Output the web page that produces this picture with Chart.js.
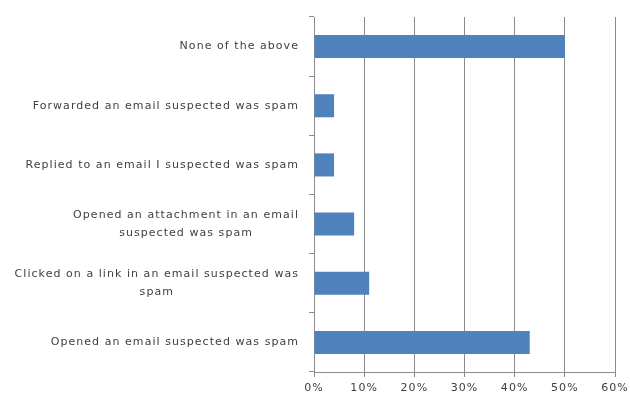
<!DOCTYPE html>
<html>
<head>
<meta charset="utf-8">
<script src="https://cdn.jsdelivr.net/npm/chart.js@4/dist/chart.umd.min.js"></script>
<style>
  html, body { margin: 0; padding: 0; background: #fff; }
  #wrap { width: 630px; height: 397px; }
</style>
</head>
<body>
<div id="wrap"><canvas id="spamchart"></canvas></div>
<script>
// survey answers, top to bottom (each entry is the wrapped lines of the label)
const answers = [
    ["None of the above"],
    ["Forwarded an email suspected was spam"],
    ["Replied to an email I suspected was spam"],
    ["Opened an attachment in an email", "suspected was spam"],
    ["Clicked on a link in an email suspected was", "spam"],
    ["Opened an email suspected was spam"]
];
const shares = [50, 4, 4, 8, 11, 43];
const pctTicks = [0, 10, 20, 30, 40, 50, 60];

const labelFont = '11px "DejaVu Sans", Verdana, sans-serif';
const textColor = '#404040';
const gridColor = '#8c8c8c';
const tracking = '1.05px';

// wider tracking for the text on the canvas
const spacing = {
    id: 'spacing',
    beforeDraw(chart) { chart.ctx.letterSpacing = tracking }
};

// category labels: right aligned block, lines centred inside it
const answerLabels = {
    id: 'answerLabels',
    afterDraw(chart) {
        const ctx = chart.ctx;
        const yScale = chart.scales.y;
        const rightEdge = chart.chartArea.left - 15;
        const lineH = 18;
        ctx.save();
        ctx.font = labelFont;
        ctx.letterSpacing = tracking;
        ctx.fillStyle = textColor;
        ctx.textBaseline = 'middle';
        ctx.textAlign = 'left';
        answers.forEach((lines, i) => {
            const yMid = yScale.getPixelForTick(i);
            var widest = 0;
            lines.forEach(l => { widest = Math.max(widest, ctx.measureText(l).width) });
            lines.forEach((l, j) => {
                const w = ctx.measureText(l).width;
                const x = rightEdge - widest + (widest - w) / 2;
                const y = yMid + (j - (lines.length - 1) / 2) * lineH;
                ctx.fillText(l, x, y);
            });
        });
        ctx.restore();
    }
};

const data = {
    labels: answers.map(a => a.join(' ')),
    datasets: [{
        data: shares,
        backgroundColor: '#4f81bd',
        borderWidth: 0,
        categoryPercentage: 1,
        barPercentage: 0.39
    }]
};

const config = {
    type: 'bar',
    data: data,
    options: {
        indexAxis: 'y',
        responsive: true,
        maintainAspectRatio: false,
        animation: false,
        layout: { padding: { top: 17, right: 15, bottom: 0, left: 0 } },
        plugins: {
            legend: { display: false },
            tooltip: { enabled: false }
        },
        scales: {
            x: {
                min: 0,
                max: 60,
                afterFit: scale => {
                    scale.height = 25
                    scale.paddingLeft = 0
                    scale.paddingRight = 0
                },
                afterBuildTicks: scale => { scale.ticks = pctTicks.map(v => ({ value: v })) },
                grid: {
                    color: gridColor,
                    tickLength: 5,
                    tickColor: gridColor
                },
                border: { color: gridColor },
                ticks: {
                    color: textColor,
                    font: { family: '"DejaVu Sans", Verdana, sans-serif', size: 11 },
                    padding: 5,
                    maxRotation: 0,
                    callback: v => v + '%'
                }
            },
            y: {
                afterFit: scale => { scale.width = 314 },
                grid: {
                    offset: true,
                    drawOnChartArea: false,
                    tickLength: 5,
                    color: gridColor
                },
                border: { color: gridColor },
                ticks: { display: false }
            }
        }
    },
    plugins: [spacing, answerLabels]
};

const myChart = new Chart(document.getElementById('spamchart'), config);
</script>
</body>
</html>
